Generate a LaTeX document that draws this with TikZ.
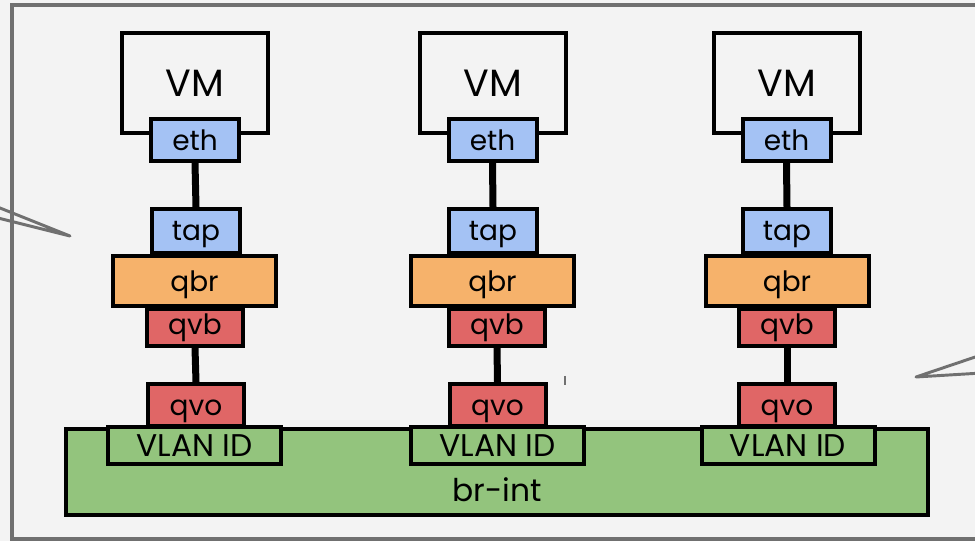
\documentclass[tikz,border=0pt]{standalone}
\usepackage{fontspec}
\setmainfont{Poppins}
\definecolor{bgc}{HTML}{F3F3F3}
\definecolor{framec}{HTML}{707070}
\definecolor{ifblue}{HTML}{A4C2F4}
\definecolor{brorange}{HTML}{F6B26B}
\definecolor{vethred}{HTML}{E06666}
\definecolor{ovsgreen}{HTML}{93C47D}
\tikzset{
  px/.style={x=0.75pt,y=-0.75pt},
  % text height/depth fix the baseline at a set distance below the centre
  box/.style={draw=black,line width=3pt,inner sep=0pt,font=\fontsize{21}{24}\selectfont,
              text height=17pt,text depth=0.5pt},
  vmbox/.style={box,fill=bgc,font=\fontsize{28.5}{32}\selectfont,
                text height=21.5pt,text depth=0.5pt},
  link/.style={line width=5.25pt,black},
  callout/.style={draw=framec,line width=2.2pt,line join=round,line cap=round},
}
\begin{document}
\begin{tikzpicture}[px]
  \useasboundingbox (0,0) rectangle (975,541);
  \clip (0,0) rectangle (975,541);
  \fill[bgc] (0,0) rectangle (975,541);
  % outer frame (runs past the right edge)
  \draw[framec,line width=3pt] (11.5,5) rectangle (1000,538.5);

  % integration bridge
  \node[box,fill=ovsgreen,minimum width=862*0.75pt,minimum height=86*0.75pt,
        font=\fontsize{23.5}{28}\selectfont,text height=45.5pt,text depth=0.5pt]
        (brint) at (497,472) {br-int};

  % one stack per VM:  name / VM x / eth x / tap x / qbr x / qvb x / qvo x / vlan x
  \foreach \n/\vm/\eth/\tap/\qbr/\qvb/\qvo/\vl in
     {a/195/195/196/194.5/195/196/194.5,
      b/493/492.5/493/492.5/497/497.5/497.5,
      c/787/786.5/787/787/787/787/788}{
    \node[vmbox,minimum width=146*0.75pt,minimum height=100*0.75pt] (vm\n) at (\vm,83) {VM};
    \node[box,fill=ifblue,minimum width=88*0.75pt,minimum height=42*0.75pt] (eth\n) at (\eth,140) {eth};
    \node[box,fill=brorange,minimum width=163*0.75pt,minimum height=50*0.75pt] (qbr\n) at (\qbr,281) {qbr};
    \node[box,fill=ifblue,minimum width=88*0.75pt,minimum height=44*0.75pt,
          text height=15pt] (tap\n) at (\tap,231) {tap};
    \node[box,fill=vethred,minimum width=96*0.75pt,minimum height=37*0.75pt,
          text height=11.75pt] (qvb\n) at (\qvb,327.5) {qvb};
    \node[box,fill=vethred,minimum width=96*0.75pt,minimum height=42*0.75pt] (qvo\n) at (\qvo,405) {qvo};
    \node[box,fill=ovsgreen,minimum width=173*0.75pt,minimum height=37*0.75pt,
          font=\fontsize{23.5}{26}\selectfont,text height=17pt] (vlan\n) at (\vl,446) {VLAN ID};
    \draw[link] (eth\n.south) -- (tap\n.north);
    \draw[link] (qvb\n.south) -- (qvo\n.north);
  }

  % callout pointers
  \coordinate (lA) at (-10,204);
  \coordinate (lB) at (-10,216);
  \coordinate (lT) at (70,236);
  \draw[callout] (lA) -- (lT) -- (lB);
  \coordinate (rA) at (990,352);
  \coordinate (rB) at (990,372.5);
  \coordinate (rT) at (916,377);
  \draw[callout] (rA) -- (rT) -- (rB);

  % stray caret mark
  \coordinate (k1) at (565,376);
  \coordinate (k2) at (565,385);
  \draw[framec,line width=0.8pt] (k1) -- (k2);
\end{tikzpicture}
\end{document}
